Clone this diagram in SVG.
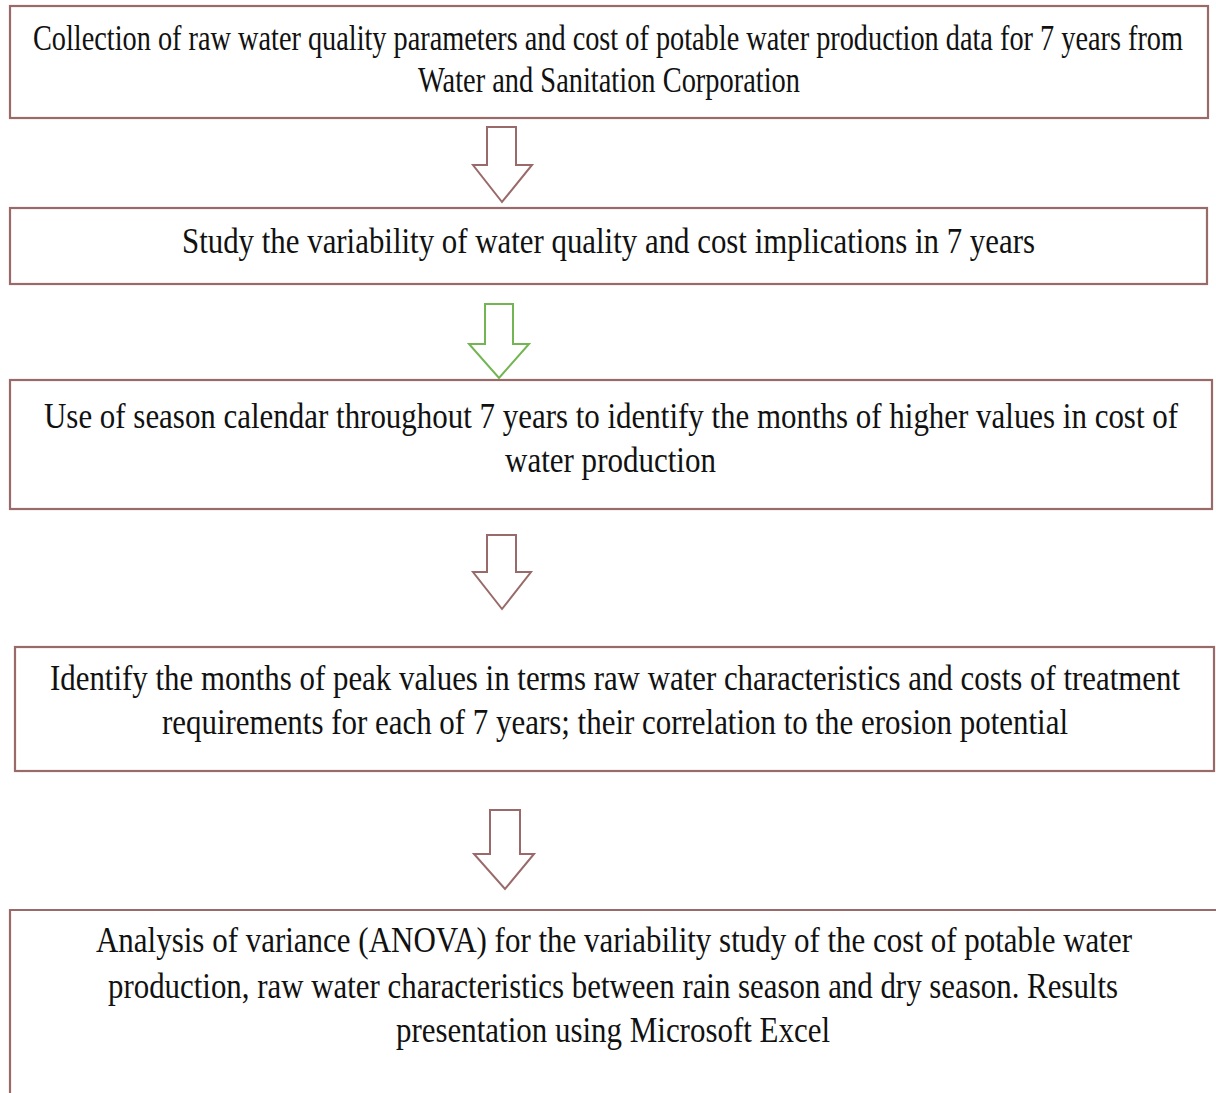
<svg xmlns="http://www.w3.org/2000/svg" width="1216" height="1093" viewBox="0 0 1216 1093">
<style>
.box{fill:#fff;stroke:#9a6a6a;stroke-width:2.2}
.arr{fill:#fff;stroke:#9a6a6a;stroke-width:2}
.arrg{fill:#fff;stroke:#72b552;stroke-width:2}
text{font-family:"Liberation Serif","Times New Roman",serif;font-size:35px;fill:#111}
</style>
<rect width="1216" height="1093" fill="#fff"/>
<g id="node1">
<rect class="box" x="10" y="6" width="1198" height="112"/>
<text x="33" y="50" textLength="1150" lengthAdjust="spacingAndGlyphs">Collection of raw water quality parameters and cost of potable water production data for 7 years from</text>
<text x="418" y="92" textLength="382" lengthAdjust="spacingAndGlyphs">Water and Sanitation Corporation</text>
</g>
<g id="node2">
<rect class="box" x="10" y="208" width="1197" height="76"/>
<text x="182" y="253" textLength="853" lengthAdjust="spacingAndGlyphs">Study the variability of water quality and cost implications in 7 years</text>
</g>
<g id="node3">
<rect class="box" x="10" y="380" width="1202" height="129"/>
<text x="44" y="428" textLength="1134" lengthAdjust="spacingAndGlyphs">Use of season calendar throughout 7 years to identify the months of higher values in cost of</text>
<text x="505" y="472" textLength="211" lengthAdjust="spacingAndGlyphs">water production</text>
</g>
<g id="node4">
<rect class="box" x="15" y="647" width="1199" height="124"/>
<text x="50" y="690" textLength="1130" lengthAdjust="spacingAndGlyphs">Identify the months of peak values in terms raw water characteristics and costs of treatment</text>
<text x="162" y="734" textLength="906" lengthAdjust="spacingAndGlyphs">requirements for each of 7 years; their correlation to the erosion potential</text>
</g>
<g id="node5">
<path class="box" d="M10,1093 V910 H1216"/>
<text x="96" y="952" textLength="1036" lengthAdjust="spacingAndGlyphs">Analysis of variance (ANOVA) for the variability study of the cost of potable water</text>
<text x="108" y="998" textLength="1010" lengthAdjust="spacingAndGlyphs">production, raw water characteristics between rain season and dry season. Results</text>
<text x="396" y="1042" textLength="434" lengthAdjust="spacingAndGlyphs">presentation using Microsoft Excel</text>
</g>
<g id="connectors">
<polygon class="arr" points="487,127 516,127 516,165 532,165 502,202 473,165 487,165"/>
<polygon class="arrg" points="485,304 513,304 513,344 529,344 499,378 469,344 485,344"/>
<polygon class="arr" points="487,535 516,535 516,572 531,572 502,609 473,572 487,572"/>
<polygon class="arr" points="490,810 520,810 520,854 534,854 505,889 474,854 490,854"/>
</g>
</svg>
